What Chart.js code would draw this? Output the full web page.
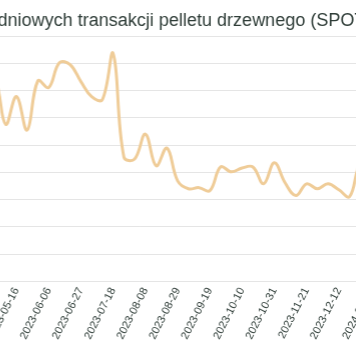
<!DOCTYPE html>
<html>
<head>
<meta charset="utf-8">
<script src="https://cdn.jsdelivr.net/npm/chart.js@4.4.0/dist/chart.umd.min.js"></script>
<style>
html,body{margin:0;padding:0;background:#fff;overflow:hidden;width:356px;height:364px;}
#wrap{position:absolute;left:-220.6px;top:0;width:682.6px;height:364px;}
</style>
</head>
<body>
<div id="wrap"><canvas id="c"></canvas></div>
<script>
const titleText = 'Ceny średnie 7-dniowych transakcji pelletu drzewnego (SPOT)';
const startDate = '2023-01-10';
const weekCount = 60;
const prices = [
  1650, 1620, 1640, 1600, 1580, 1610, 1560, 1590, 1540, 1570,
  1520, 1550, 1500, 1530, 1480, 1560, 1545, 1376, 1478, 1355,
  1536, 1511, 1602, 1595, 1533, 1478, 1467, 1636, 1256, 1249,
  1340, 1224, 1289, 1169, 1140, 1144, 1133, 1220, 1202, 1216,
  1220, 1158, 1235, 1162, 1115, 1158, 1140, 1158, 1136, 1111,
  1230, 1200, 1180, 1150, 1120, 1090, 1060, 1080, 1040, 1020
];
const yMin = 800, yMax = 1700, yStep = 100;

const labels = [];
(function(){
  const d = new Date(startDate + 'T00:00:00Z');
  for (let i = 0; i < weekCount; i++) {
    const x = new Date(d.getTime() + i * 7 * 86400000);
    labels.push(x.toISOString().slice(0, 10));
  }
})();

const textColor = '#2f3d38';
Chart.defaults.font.family = '"Liberation Sans", Arial, sans-serif';
Chart.defaults.color = textColor;

const chart = new Chart(document.getElementById('c'), {
  type: 'line',
  data: {
    labels: labels,
    datasets: [{
      data: prices,
      borderColor: '#efcc98',
      borderWidth: 3,
      pointRadius: 0,
      tension: 0.4,
      fill: false
    }]
  },
  options: {
    responsive: true,
    maintainAspectRatio: false,
    animation: false,
    layout: { padding: { left: 5.6, right: 5.6, top: 0, bottom: 18.4 } },
    plugins: {
      legend: { display: false },
      tooltip: { enabled: false },
      title: {
        display: true,
        text: titleText,
        color: textColor,
        font: { size: 18, weight: 'normal' },
        padding: { top: 10, bottom: 4.4 }
      }
    },
    scales: {
      x: {
        grid: { display: false, drawTicks: false },
        border: { display: false },
        ticks: {
          autoSkip: false,
          minRotation: 63,
          maxRotation: 63,
          padding: 4,
          font: { size: 11 },
          color: textColor,
          callback: function(v, i) { return i % 3 === 0 ? this.getLabelForValue(v) : null; }
        }
      },
      y: {
        min: yMin,
        max: yMax,
        ticks: { stepSize: yStep, font: { size: 12 } },
        border: { display: false },
        afterFit: function(s) { s.width = 38.3; }
      }
    }
  }
});
</script>
</body>
</html>
